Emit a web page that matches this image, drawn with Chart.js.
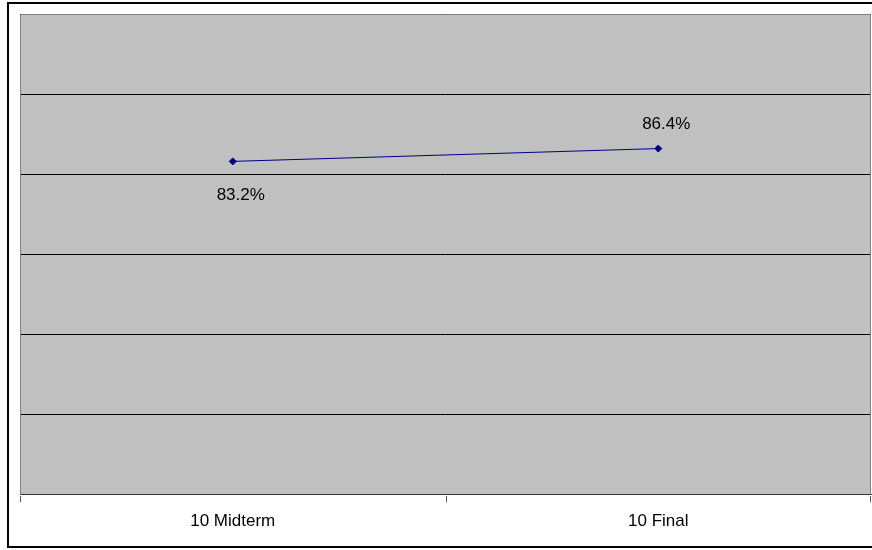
<!DOCTYPE html>
<html>
<head>
<meta charset="utf-8">
<script src="https://cdn.jsdelivr.net/npm/chart.js@4/dist/chart.umd.min.js"></script>
<style>
html,body{margin:0;padding:0;background:#fff;overflow:hidden;}
#wrap{position:relative;width:872px;height:550px;overflow:hidden;}
canvas{display:block;}
</style>
</head>
<body>
<div id="wrap"><canvas id="c" width="876" height="550"></canvas></div>
<script>
const categories = ["10 Midterm", "10 Final"];
const scores = [83.2, 86.4];
const pointLabels = ["83.2%", "86.4%"];
const labelSides = ["below", "above"];
const yMin = 0, yMax = 120, yStep = 20;

const FONT = '"Liberation Sans", Arial, sans-serif';

const bgPlugin = {
  id: 'bg',
  beforeDraw(chart) {
    const {ctx, chartArea: a} = chart;
    ctx.save();
    ctx.fillStyle = '#c0c0c0';
    ctx.fillRect(Math.round(a.left), Math.round(a.top), Math.round(a.right - a.left), Math.round(a.bottom - a.top));
    ctx.restore();
  },
  afterDraw(chart) {
    const {ctx, chartArea: a} = chart;
    const xs = chart.scales.x;
    ctx.save();
    // plot area border (gray) top/left/right
    ctx.strokeStyle = '#808080';
    ctx.lineWidth = 1;
    ctx.beginPath();
    ctx.moveTo(a.left + 0.5, a.bottom);
    ctx.lineTo(a.left + 0.5, a.top + 0.5);
    ctx.lineTo(a.right - 0.5, a.top + 0.5);
    ctx.lineTo(a.right - 0.5, a.bottom);
    ctx.stroke();
    // x tick marks between categories (drawn as small filled rects below the axis)
    ctx.fillStyle = '#555';
    for (let i = 0; i <= categories.length; i++) {
      const px = Math.min(Math.round(xs.getPixelForValue(i - 0.5)), Math.round(a.right) - 1);
      ctx.fillRect(px, Math.round(a.bottom) + 1, 1, 6);
    }
    // outer border
    ctx.strokeStyle = '#000';
    ctx.lineWidth = 2;
    ctx.strokeRect(8, 3, 900, 544);
    // data labels
    const meta = chart.getDatasetMeta(0);
    ctx.fillStyle = '#000';
    ctx.font = '17px ' + FONT;
    ctx.textAlign = 'center';
    ctx.textBaseline = 'middle';
    meta.data.forEach((p, i) => {
      const dy = labelSides[i] === 'below' ? 34 : -24;
      ctx.fillText(pointLabels[i], p.x + 8, p.y + dy);
    });
    ctx.restore();
  }
};

new Chart(document.getElementById('c'), {
  type: 'line',
  data: {
    labels: categories,
    datasets: [{
      data: scores,
      borderColor: '#000080',
      borderWidth: 1,
      backgroundColor: '#000080',
      pointStyle: 'rectRot',
      pointRadius: 3.5,
      pointBorderWidth: 1,
      pointBackgroundColor: '#000080',
      pointBorderColor: '#000080',
      tension: 0
    }]
  },
  options: {
    responsive: false,
    animation: false,
    events: [],
    layout: { padding: { left: 20, right: 1, top: 14, bottom: 1 } },
    plugins: { legend: { display: false }, tooltip: { enabled: false } },
    scales: {
      x: {
        offset: true,
        grid: { display: false, drawTicks: false },
        border: { display: true, color: '#333', width: 1 },
        ticks: { color: '#000', padding: 17, font: { family: FONT, size: 17 } }
      },
      y: {
        min: yMin, max: yMax,
        ticks: { display: false, stepSize: yStep },
        grid: { color: '#000', drawTicks: false, lineWidth: 1 },
        border: { display: false }
      }
    }
  },
  plugins: [bgPlugin]
});
</script>
</body>
</html>
